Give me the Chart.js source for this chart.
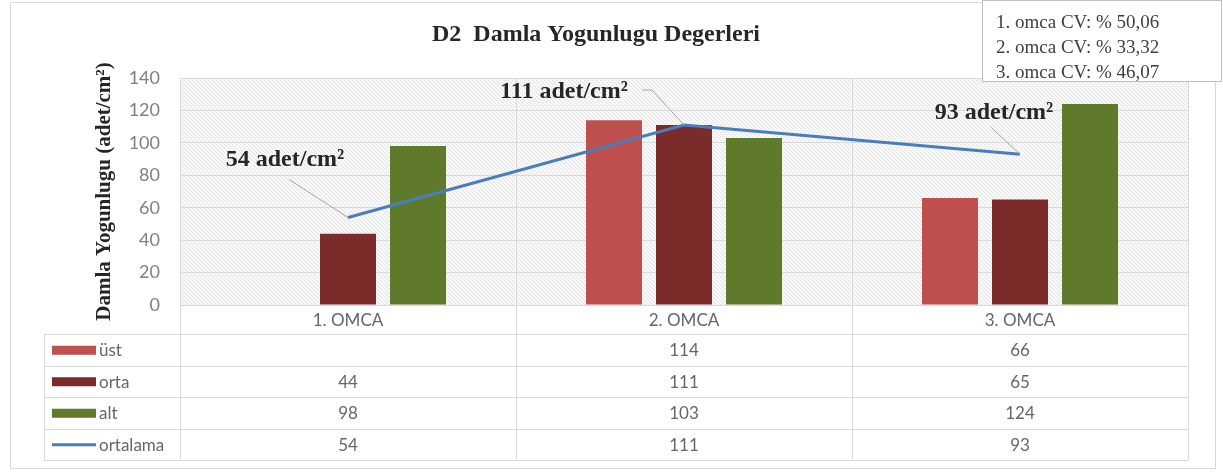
<!DOCTYPE html>
<html>
<head>
<meta charset="utf-8">
<script src="https://cdn.jsdelivr.net/npm/chart.js@4/dist/chart.umd.min.js"></script>
<style>
  html, body { margin: 0; padding: 0; background: #fff; }
  #wrap { width: 1223px; height: 472px; position: relative; }
</style>
</head>
<body>
<div id="wrap"><canvas id="chart" width="1223" height="472"></canvas></div>
<script>
// Datos del grafico
const categories = ['1. OMCA', '2. OMCA', '3. OMCA'];
const ustValues = [null, 114, 66];
const ortaValues = [44, 111, 65];
const altValues = [98, 103, 124];
const ortalamaValues = [54, 111, 93];
const yTicks = [0, 20, 40, 60, 80, 100, 120, 140];
const seriesNames = ['üst', 'orta', 'alt', 'ortalama'];
const cvLines = ['1. omca CV: % 50,06', '2. omca CV: % 33,32', '3. omca CV: % 46,07'];
const chartTitle = 'D2  Damla Yogunlugu Degerleri';
const unitLabel = ' adet/cm²';

const colors = ['#c0504d', '#7b2c2a', '#5f7a2b', '#4a7ebb'];
const sansFont = 'Lato, "Open Sans", sans-serif';
const serifFont = '"Liberation Serif", "DejaVu Serif", serif';

// Fondo rayado del area del grafico
function makePattern(ctx) {
    const c = document.createElement('canvas');
    c.width = 4; c.height = 4;
    const p = c.getContext('2d');
    p.fillStyle = '#f8f8f8';
    p.fillRect(0, 0, 4, 4);
    p.fillStyle = '#dedede';
    p.fillRect(0, 0, 1, 1);
    p.fillRect(2, 2, 1, 1);
    p.fillStyle = '#ebebeb';
    p.fillRect(1, 1, 1, 1);
    p.fillRect(3, 3, 1, 1);
    return ctx.createPattern(c, 'repeat');
}

const backgroundPlugin = {
    id: 'background',
    beforeDraw(chart) {
        const { ctx, chartArea } = chart;
        ctx.save();
        ctx.fillStyle = '#fff';
        ctx.fillRect(0, 0, chart.width, chart.height);
        ctx.strokeStyle = '#d9d9d9';
        ctx.lineWidth = 1;
        ctx.strokeRect(10.5, 2.5, 1205, 466);
        ctx.fillStyle = makePattern(ctx);
        ctx.fillRect(chartArea.left, chartArea.top, chartArea.right - chartArea.left, chartArea.bottom - chartArea.top);
        // titulo
        ctx.font = 'bold 24px ' + serifFont;
        ctx.fillStyle = '#262626';
        ctx.textAlign = 'center';
        ctx.textBaseline = 'middle';
        ctx.fillText(chartTitle, 596, 35);
        ctx.restore();
    }
};

// Tabla de datos debajo del grafico
const dataTablePlugin = {
    id: 'dataTable',
    afterDraw(chart) {
        const { ctx, chartArea } = chart;
        const x = chart.scales.x;
        const headerH = 29;
        const rowH = 31.5;
        const tableLeft = 44;
        const top = chartArea.bottom;
        const rowsTop = top + headerH;
        const bottom = rowsTop + rowH * 4;
        const rows = [ustValues, ortaValues, altValues, ortalamaValues];

        ctx.save();
        ctx.strokeStyle = '#d9d9d9';
        ctx.lineWidth = 1;
        // lineas horizontales
        for (let i = 0; i <= 4; i++) {
            const y = Math.round(rowsTop + i * rowH) + 0.5;
            ctx.beginPath();
            ctx.moveTo(tableLeft, y);
            ctx.lineTo(chartArea.right, y);
            ctx.stroke();
        }
        // lineas verticales
        ctx.beginPath();
        ctx.moveTo(tableLeft + 0.5, rowsTop);
        ctx.lineTo(tableLeft + 0.5, bottom);
        ctx.stroke();
        const step = (chartArea.right - chartArea.left) / categories.length;
        for (let i = 0; i <= categories.length; i++) {
            const vx = Math.round(chartArea.left + i * step) + 0.5;
            ctx.beginPath();
            ctx.moveTo(vx, top);
            ctx.lineTo(vx, bottom);
            ctx.stroke();
        }

        // etiquetas de categoria
        ctx.textAlign = 'center';
        ctx.textBaseline = 'middle';
        ctx.font = '17px ' + sansFont;
        ctx.fillStyle = '#666666';
        categories.forEach((c, i) => {
            ctx.fillText(c, x.getPixelForValue(i), top + headerH / 2 + 1);
        });

        // valores y leyenda
        rows.forEach((vals, r) => {
            const cy = rowsTop + r * rowH + rowH / 2 + 1;
            vals.forEach((v, i) => {
                if (v !== null) ctx.fillText(String(v), x.getPixelForValue(i), cy);
            });
            ctx.fillStyle = colors[r];
            if (r < 3) {
                ctx.fillRect(52, cy - 5, 44, 9);
            } else {
                ctx.fillRect(52, cy - 2, 44, 3);
            }
            ctx.fillStyle = '#666666';
            ctx.textAlign = 'left';
            ctx.fillText(seriesNames[r], 99, cy);
            ctx.textAlign = 'center';
        });
        ctx.restore();
    }
};

// Etiquetas del promedio y cuadro CV
const annotationPlugin = {
    id: 'annotations',
    afterDatasetsDraw(chart) {
        const { ctx } = chart;
        const pts = chart.getDatasetMeta(3).data;
        const textPos = [[-63, -58], [-120, -33], [-26, -41]];
        const leaders = [
            [[-59, -38]],
            [[-42, -35], [-32, -35]],
            [[-29, -27]]
        ];
        ctx.save();
        ctx.strokeStyle = '#a6a6a6';
        ctx.lineWidth = 1;
        pts.forEach((p, i) => {
            ctx.beginPath();
            const lp = leaders[i];
            ctx.moveTo(p.x + lp[0][0], p.y + lp[0][1]);
            for (let k = 1; k < lp.length; k++) ctx.lineTo(p.x + lp[k][0], p.y + lp[k][1]);
            ctx.lineTo(p.x, p.y);
            ctx.stroke();
        });
        ctx.font = 'bold 24px ' + serifFont;
        ctx.fillStyle = '#262626';
        ctx.textAlign = 'center';
        ctx.textBaseline = 'middle';
        pts.forEach((p, i) => {
            ctx.fillText(ortalamaValues[i] + unitLabel, p.x + textPos[i][0], p.y + textPos[i][1]);
        });
        ctx.restore();
    },
    afterDraw(chart) {
        const { ctx } = chart;
        ctx.save();
        ctx.fillStyle = '#fff';
        ctx.fillRect(982, 0, 240, 82);
        ctx.strokeStyle = '#bfbfbf';
        ctx.strokeRect(982.5, 0.5, 239, 81);
        ctx.font = '19px ' + serifFont;
        ctx.fillStyle = '#404040';
        ctx.textBaseline = 'middle';
        cvLines.forEach((t, i) => ctx.fillText(t, 996, 23 + i * 25));
        ctx.restore();
    }
};

const ctx = document.getElementById('chart').getContext('2d');
new Chart(ctx, {
    type: 'bar',
    data: {
        labels: categories,
        datasets: [
            { label: seriesNames[0], data: ustValues, backgroundColor: colors[0], order: 1 },
            { label: seriesNames[1], data: ortaValues, backgroundColor: colors[1], order: 1 },
            { label: seriesNames[2], data: altValues, backgroundColor: colors[2], order: 1 },
            {
                type: 'line', label: seriesNames[3], data: ortalamaValues,
                borderColor: colors[3], borderWidth: 3, pointRadius: 0, tension: 0, order: 0
            }
        ]
    },
    options: {
        responsive: false,
        animation: false,
        events: [],
        categoryPercentage: 0.625,
        barPercentage: 0.8,
        layout: { padding: { left: 92, right: 35, top: 78, bottom: 167 } },
        plugins: {
            legend: { display: false },
            tooltip: { enabled: false }
        },
        scales: {
            x: {
                ticks: { display: false },
                grid: { color: '#d9d9d9', drawTicks: false },
                border: { color: '#d9d9d9' }
            },
            y: {
                min: 0,
                max: 140,
                afterBuildTicks(scale) { scale.ticks = yTicks.map(v => ({ value: v })); },
                afterFit(scale) { scale.width = 88; },
                ticks: { color: '#808080', padding: 20, font: { family: sansFont, size: 18 } },
                grid: { color: '#d9d9d9', drawTicks: false },
                border: { color: '#d9d9d9' },
                title: {
                    display: true,
                    text: 'Damla Yogunlugu (adet/cm²)',
                    color: '#262626',
                    padding: 0,
                    font: { family: serifFont, size: 21, weight: 'bold' }
                }
            }
        }
    },
    plugins: [backgroundPlugin, dataTablePlugin, annotationPlugin]
});
</script>
</body>
</html>
